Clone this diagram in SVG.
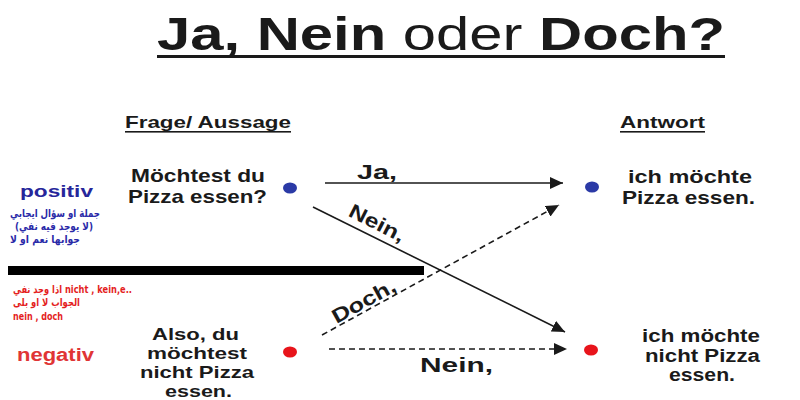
<svg xmlns="http://www.w3.org/2000/svg" width="800" height="400" viewBox="0 0 800 400">
<defs>
<style>
.t{font-family:"Liberation Sans",Arial,sans-serif;font-weight:bold;fill:#1a1a1a}
.ar{font-family:"DejaVu Sans","Noto Sans",sans-serif;font-size:11px;font-weight:bold}
.blue{fill:#2a2aa8}
.red{fill:#e41e1e}
.ln{stroke:#1a1a1a;stroke-width:1.6;fill:none}
.dash{stroke-dasharray:6 4}
</style>
<marker id="ah" markerUnits="userSpaceOnUse" markerWidth="14" markerHeight="12" refX="13" refY="6" orient="auto">
<path d="M0,0 L13,6 L0,12 Z" fill="#1a1a1a"/>
</marker>
</defs>
<rect width="800" height="400" fill="#ffffff"/>

<g id="title">
<text class="t" x="157" y="50" font-size="47" textLength="568" lengthAdjust="spacingAndGlyphs">Ja, Nein <tspan font-weight="normal">oder</tspan> Doch?</text>
<rect x="157" y="55" width="568" height="3" fill="#1a1a1a"/>
</g>

<g id="header-frage">
<text class="t" x="125" y="128" font-size="17" textLength="166" lengthAdjust="spacingAndGlyphs">Frage/ Aussage</text>
<rect x="125" y="131" width="166" height="1.6" fill="#1a1a1a"/>
</g>
<g id="header-antwort">
<text class="t" x="620" y="128" font-size="17" textLength="85" lengthAdjust="spacingAndGlyphs">Antwort</text>
<rect x="620" y="131" width="85" height="1.6" fill="#1a1a1a"/>
</g>

<g id="positiv-note">
<text class="t" x="20" y="197" font-size="17" textLength="73" lengthAdjust="spacingAndGlyphs" style="fill:#26269a">positiv</text>
<text class="ar blue" x="55" y="217" text-anchor="middle" direction="rtl" textLength="90" lengthAdjust="spacingAndGlyphs">جملة او سؤال ايجابي</text>
<text class="ar blue" x="54" y="230" text-anchor="middle" direction="rtl" textLength="78" lengthAdjust="spacingAndGlyphs">(لا يوجد فيه نفي)</text>
<text class="ar blue" x="45" y="243" text-anchor="middle" direction="rtl" textLength="70" lengthAdjust="spacingAndGlyphs">جوابها نعم او لا</text>
</g>

<g id="divider">
<rect x="8" y="266" width="416" height="9" fill="#000000"/>
</g>

<g id="negativ-note">
<text class="ar red" x="13" y="293" textLength="119" lengthAdjust="spacingAndGlyphs">اذا وجد نفي  nicht , kein,e..</text>
<text class="ar red" x="13" y="306" textLength="67" lengthAdjust="spacingAndGlyphs">الجواب لا او بلى</text>
<text class="ar red" x="13" y="320" textLength="50" lengthAdjust="spacingAndGlyphs">nein , doch</text>
<text class="t" x="17" y="361" font-size="18" textLength="77" lengthAdjust="spacingAndGlyphs" style="fill:#e03535">negativ</text>
</g>

<g id="q-positiv">
<text class="t" x="131" y="182" font-size="19" textLength="134" lengthAdjust="spacingAndGlyphs">Möchtest du</text>
<text class="t" x="128" y="203" font-size="19" textLength="139" lengthAdjust="spacingAndGlyphs">Pizza essen?</text>
<ellipse cx="290" cy="188" rx="7" ry="5.5" fill="#2b3aa6"/>
</g>

<g id="a-positiv">
<ellipse cx="592" cy="187" rx="7" ry="5.5" fill="#2b3aa6"/>
<text class="t" x="628" y="183" font-size="19" textLength="124" lengthAdjust="spacingAndGlyphs">ich möchte</text>
<text class="t" x="622" y="204" font-size="19" textLength="133" lengthAdjust="spacingAndGlyphs">Pizza essen.</text>
</g>

<g id="q-negativ">
<text class="t" x="152" y="340" font-size="17" textLength="87" lengthAdjust="spacingAndGlyphs">Also, du</text>
<text class="t" x="147" y="359" font-size="17" textLength="100" lengthAdjust="spacingAndGlyphs">möchtest</text>
<text class="t" x="140" y="378" font-size="17" textLength="114" lengthAdjust="spacingAndGlyphs">nicht Pizza</text>
<text class="t" x="165" y="397" font-size="17" textLength="67" lengthAdjust="spacingAndGlyphs">essen.</text>
<ellipse cx="290" cy="352" rx="7" ry="5.5" fill="#e8141b"/>
</g>

<g id="a-negativ">
<ellipse cx="591" cy="350" rx="7" ry="5.5" fill="#e8141b"/>
<text class="t" x="642" y="342" font-size="18" textLength="118" lengthAdjust="spacingAndGlyphs">ich möchte</text>
<text class="t" x="645" y="362" font-size="18" textLength="115" lengthAdjust="spacingAndGlyphs">nicht Pizza</text>
<text class="t" x="669" y="381" font-size="18" textLength="66" lengthAdjust="spacingAndGlyphs">essen.</text>
</g>

<g id="connectors">
<line class="ln" x1="325" y1="183" x2="563" y2="183" marker-end="url(#ah)"/>
<line class="ln" x1="313" y1="207" x2="565" y2="332" marker-end="url(#ah)"/>
<line class="ln dash" x1="322" y1="335" x2="559" y2="205" marker-end="url(#ah)"/>
<line class="ln dash" x1="329" y1="349" x2="567" y2="349" marker-end="url(#ah)"/>
<text class="t" x="357" y="179" font-size="20" textLength="40" lengthAdjust="spacingAndGlyphs">Ja,</text>
<text class="t" font-size="20" text-anchor="middle" textLength="60" lengthAdjust="spacingAndGlyphs" transform="translate(374,229) rotate(27)">Nein,</text>
<text class="t" font-size="20" text-anchor="middle" textLength="70" lengthAdjust="spacingAndGlyphs" transform="translate(367,307) rotate(-29)">Doch,</text>
<text class="t" x="420" y="372" font-size="20" textLength="73" lengthAdjust="spacingAndGlyphs">Nein,</text>
</g>
</svg>
